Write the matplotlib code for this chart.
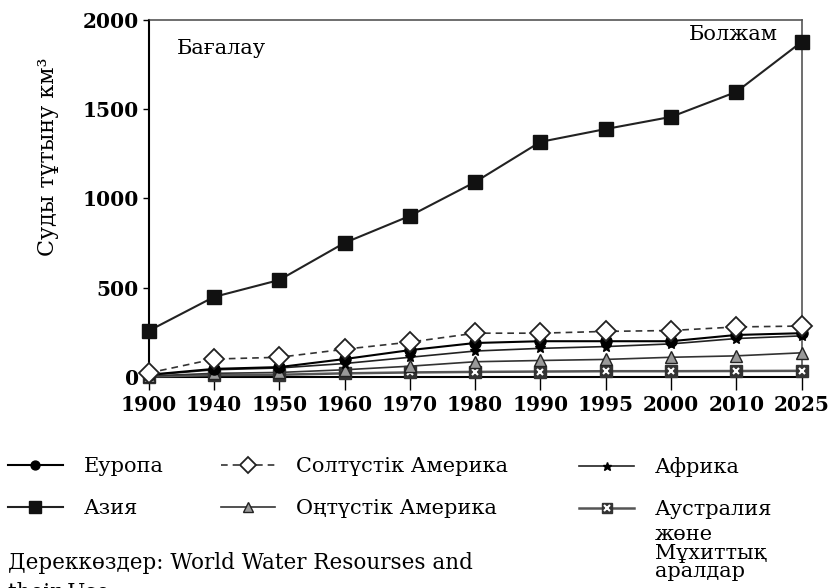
import numpy as np
import matplotlib.pyplot as plt
from matplotlib.legend_handler import HandlerTuple

years = ["1900", "1940", "1950", "1960", "1970", "1980", "1990", "1995", "2000", "2010", "2025"]
europe = [12, 45, 55, 100, 150, 190, 200, 200, 200, 235, 245]
asia = [258, 448, 543, 751, 902, 1092, 1317, 1389, 1457, 1597, 1877]
n_america = [22, 100, 110, 155, 195, 245, 245, 255, 260, 280, 285]
s_america = [5, 20, 25, 40, 60, 85, 92, 98, 110, 118, 135]
africa = [10, 40, 50, 75, 110, 145, 160, 170, 185, 215, 230]
australia = [2, 10, 12, 20, 25, 28, 30, 32, 32, 33, 34]

plt.rcParams['font.family'] = ['DejaVu Serif']

fig = plt.figure(figsize=(8.35, 5.88), dpi=100)
ax = fig.add_axes([0.178, 0.359, 0.782, 0.607])
x = np.arange(len(years))

l_aus, = ax.plot(x, australia, color='#555555', lw=1.8, marker='s', ms=9,
                 mfc='#333333', mec='#333333', zorder=2, clip_on=False)
l_aus_x, = ax.plot(x, australia, ls='none', marker='x', ms=5, mec='white',
                   mew=1.5, zorder=3, clip_on=False)
l_sa, = ax.plot(x, s_america, color='#333333', lw=1.2, marker='^', ms=9,
                mfc='#999999', mec='#222222', zorder=4, clip_on=False)
l_af, = ax.plot(x, africa, color='#222222', lw=1.2, marker='*', ms=8,
                mfc='black', mec='black', zorder=5, clip_on=False)
l_eu, = ax.plot(x, europe, color='black', lw=1.5, marker='o', ms=8,
                mfc='black', mec='black', zorder=6, clip_on=False)
l_na, = ax.plot(x, n_america, color='#333333', lw=1.2, ls=(0, (4, 3)), marker='D',
                ms=10, mfc='white', mec='#222222', mew=1.3, zorder=7, clip_on=False)
l_as, = ax.plot(x, asia, color='#222222', lw=1.5, marker='s', ms=10,
                mfc='#111111', mec='#111111', zorder=8, clip_on=False)

ax.set_xlim(0, len(years) - 1)
ax.set_ylim(0, 2000)
ax.set_xticks(x)
ax.set_xticklabels(years, fontsize=14.5, fontweight='bold')
ax.set_yticks([0, 500, 1000, 1500, 2000])
ax.set_yticklabels(["0", "500", "1000", "1500", "2000"], fontsize=14.5, fontweight='bold')
ax.tick_params(axis='x', direction='out', length=9, width=1, pad=4)
ax.tick_params(axis='y', direction='out', length=4, width=1, pad=3)
for s in ['left', 'bottom']:
    ax.spines[s].set_linewidth(1.5)
for s in ['top', 'right']:
    ax.spines[s].set_linewidth(1.2)
    ax.spines[s].set_color('#555555')
for s in ax.spines.values():
    s.set_zorder(1)

ax.set_ylabel("Суды тұтыну км³", fontsize=16)
ax.yaxis.set_label_coords(-0.138, 0.616)
ax.text(0.043, 0.921, "Бағалау", transform=ax.transAxes, fontsize=15, va='center')
ax.text(0.963, 0.958, "Болжам", transform=ax.transAxes, fontsize=15, va='center', ha='right')

# legend: three columns placed separately
leg_kw = dict(loc='upper left', frameon=False, fontsize=15, handlelength=2.6,
              handletextpad=1.0, labelspacing=1.1, borderpad=0, borderaxespad=0,
              markerscale=0.8, handler_map={tuple: HandlerTuple(ndivide=1)})
fig.legend([l_eu, l_as], ["Еуропа", "Азия"], bbox_to_anchor=(0.010, 0.222), **leg_kw)
fig.legend([l_na, l_sa], ["Солтүстік Америка", "Оңтүстік Америка"],
           bbox_to_anchor=(0.265, 0.222), **leg_kw)
fig.legend([l_af, (l_aus, l_aus_x)], ["Африка", "Аустралия"],
           bbox_to_anchor=(0.694, 0.222), **leg_kw)
fig.text(0.784, 0.107, "жөне\nМұхиттық\nаралдар", fontsize=15, va='top', linespacing=0.98)

fig.text(0.010, 0.061, "Дереккөздер: World Water Resourses and\ntheir Use", fontsize=15.5,
         va='top', linespacing=1.45)

fig.savefig("out.png", dpi=100)
